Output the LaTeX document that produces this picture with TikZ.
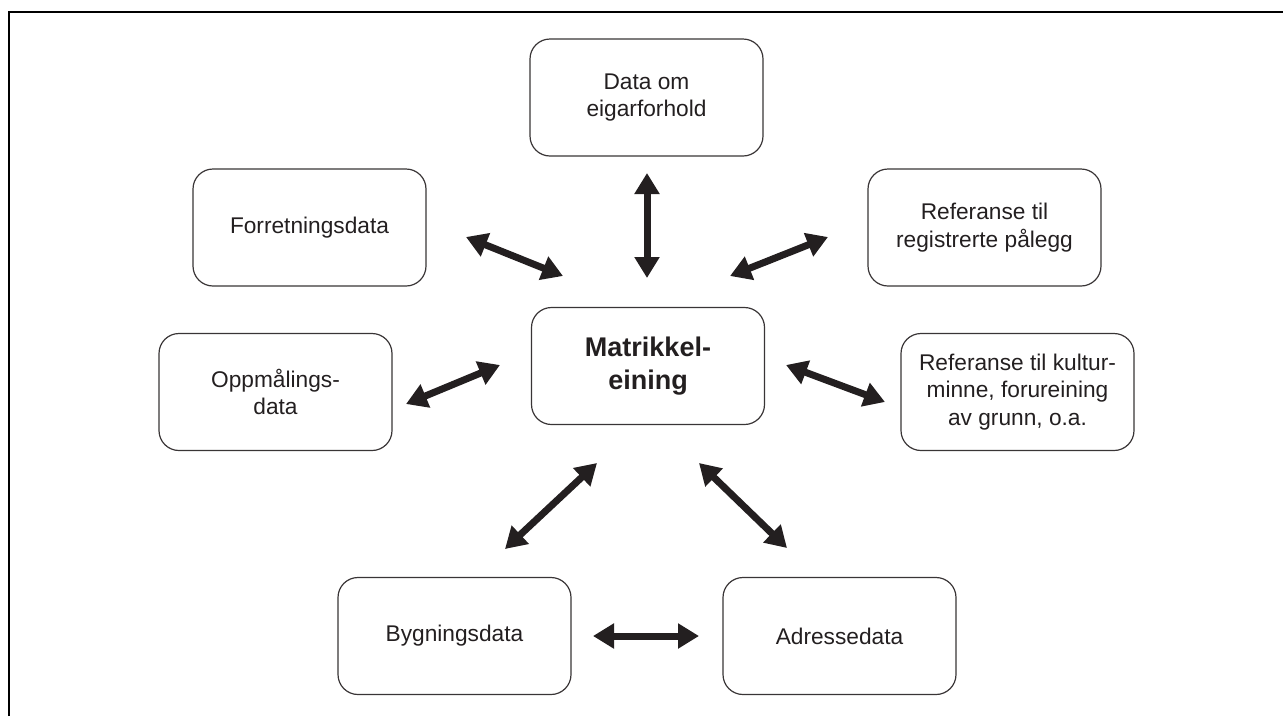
\documentclass[tikz,border=0pt]{standalone}
\usepackage{fontspec}
\setmainfont{Liberation Sans}
\usetikzlibrary{arrows.meta}
\definecolor{ink}{HTML}{231F20}
\tikzset{
  box/.style={draw=ink!90, line width=1.2pt, rounded corners=20pt, minimum width=233pt, minimum height=117pt, inner sep=0pt, align=center, text=ink, font=\fontsize{22.7pt}{27.5pt}\selectfont},
  centerbox/.style={box, font=\fontsize{27pt}{33pt}\selectfont\bfseries},
  dbl/.style={draw=ink, line width=7pt, {Triangle[width=24pt,length=21pt]}-{Triangle[width=24pt,length=21pt]}},
  frame/.style={draw=black, line width=2.2pt}
}
\begin{document}
\begin{tikzpicture}[x=1pt,y=-1pt]
\useasboundingbox (0,0) rectangle (1283,716);
\draw[frame] (9,716) -- (9,12) -- (1283,12);

\node[box] (own) at (646.5,97.5) {Data om\\eigarforhold};
\node[box] (forr) at (309.5,227.5) {Forretningsdata};
\node[box] (pal) at (984.5,227.5) {Referanse til\\registrerte pålegg};
\node[centerbox] (mat) at (648,366) {Matrikkel-\\eining};
\node[box] (opp) at (275.5,392) {Oppmålings-\\data};
\node[box] (kul) at (1017.5,392) {Referanse til kultur-\\minne, forureining\\av grunn, o.a.};
\node[box] (byg) at (454.5,636) {Bygningsdata};
\node[box] (adr) at (839.5,636) {Adressedata};

\coordinate (ownA) at (647,173);  \coordinate (ownB) at (647,278);
\coordinate (forA) at (466,237);  \coordinate (forB) at (563,276);
\coordinate (palA) at (828,237);  \coordinate (palB) at (730,276);
\coordinate (oppA) at (406,404);  \coordinate (oppB) at (500,365);
\coordinate (kulA) at (885,402);  \coordinate (kulB) at (786,365);
\coordinate (bygA) at (505,549);  \coordinate (bygB) at (597,463);
\coordinate (adrA) at (787,548);  \coordinate (adrB) at (699,463);
\coordinate (botA) at (593,636);  \coordinate (botB) at (699,636);

\draw[dbl] (ownA) -- (ownB);
\draw[dbl] (forA) -- (forB);
\draw[dbl] (palA) -- (palB);
\draw[dbl] (oppA) -- (oppB);
\draw[dbl] (kulA) -- (kulB);
\draw[dbl] (bygA) -- (bygB);
\draw[dbl] (adrA) -- (adrB);
\draw[dbl] (botA) -- (botB);
\end{tikzpicture}
\end{document}
